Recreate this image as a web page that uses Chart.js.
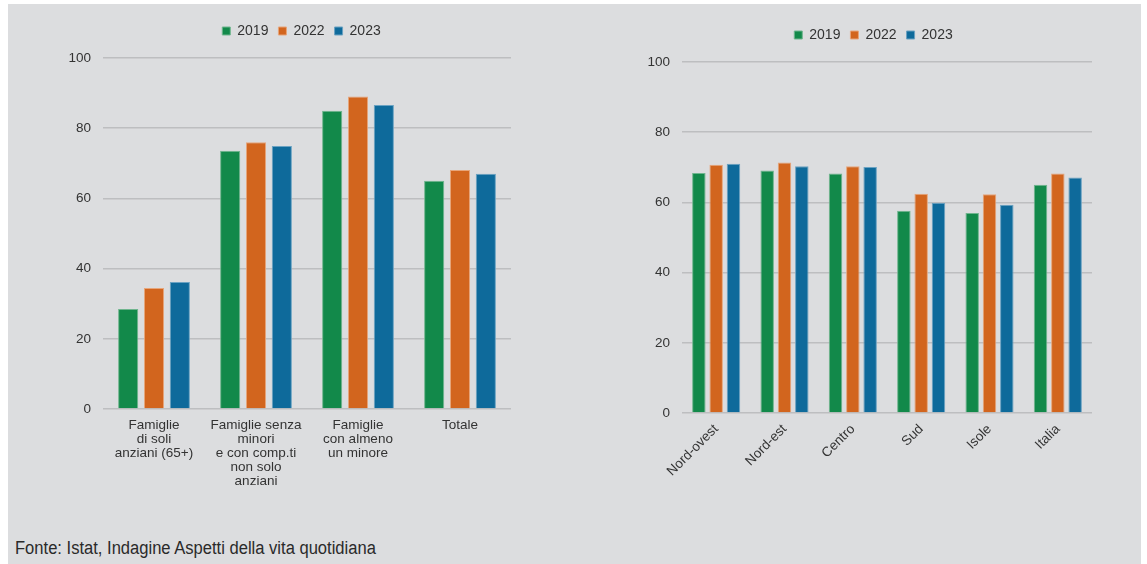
<!DOCTYPE html>
<html>
<head>
<meta charset="utf-8">
<script src="https://cdn.jsdelivr.net/npm/chart.js@4.4.1/dist/chart.umd.min.js"></script>
<style>
  html, body { margin: 0; padding: 0; background: #ffffff; }
  #panel { position: absolute; left: 8px; top: 4px; width: 1133px; height: 560px; background: #dcdddf; }
  .box { position: absolute; }
  #footer { position: absolute; left: 15px; top: 538px; font-family: "Liberation Sans", Arial, sans-serif; font-size: 18px; color: #2a2a2a; transform: scaleX(0.92); transform-origin: 0 0; white-space: nowrap; }
</style>
</head>
<body>
<div id="panel"></div>
<div class="box" style="left:8px; top:4px; width:560px; height:520px;"><canvas id="c1" width="560" height="520"></canvas></div>
<div class="box" style="left:575px; top:4px; width:566px; height:520px;"><canvas id="c2" width="566" height="520"></canvas></div>
<div id="footer">Fonte: Istat, Indagine Aspetti della vita quotidiana</div>
<script>
const seriesNames = ["2019", "2022", "2023"];
const colors = ["#12894a", "#d2651e", "#0e6a9b"];
const borders = ["#6fb58e", "#e7a57a", "#6aa2c2"];

const leftCategories = [
  ["Famiglie", "di soli", "anziani (65+)"],
  ["Famiglie senza", "minori", "e con comp.ti", "non solo", "anziani"],
  ["Famiglie", "con almeno", "un minore"],
  "Totale"
];
const left2019 = [28.5, 73.6, 85.0, 65.0];
const left2022 = [34.5, 76.0, 89.0, 68.1];
const left2023 = [36.2, 74.9, 86.6, 67.0];

const rightCategories = ["Nord-ovest", "Nord-est", "Centro", "Sud", "Isole", "Italia"];
const right2019 = [68.4, 69.1, 68.2, 57.6, 57.0, 65.0];
const right2022 = [70.7, 71.4, 70.3, 62.5, 62.3, 68.2];
const right2023 = [71.0, 70.3, 70.1, 59.9, 59.3, 67.1];

const yTicks = [0, 20, 40, 60, 80, 100];

const FONT = "'Liberation Sans', Arial, sans-serif";
Chart.defaults.font.family = FONT;
Chart.defaults.color = "#333333";

function makeDatasets(vals) {
  return vals.map((v, i) => ({
    label: seriesNames[i],
    data: v,
    backgroundColor: colors[i],
    borderColor: borders[i],
    borderWidth: 1,
    categoryPercentage: 0.76,
    barPercentage: 0.78
  }));
}

function makeChart(id, labels, vals, opt) {
  return new Chart(document.getElementById(id), {
    type: "bar",
    data: { labels: labels, datasets: makeDatasets(vals) },
    options: {
      responsive: false,
      animation: false,
      layout: { padding: opt.padding },
      plugins: {
        tooltip: { enabled: false },
        legend: {
          position: "top",
          labels: { boxWidth: 8, boxHeight: 8, padding: 10, font: { size: 14 }, color: "#333333" }
        }
      },
      scales: {
        x: {
          grid: { display: false, drawTicks: false },
          border: { display: false },
          ticks: {
            font: { size: 13.5, lineHeight: 1.04 }, color: "#333333", padding: 9,
            maxRotation: opt.rot, minRotation: opt.rot, autoSkip: false
          },
          afterFit: (s) => { s.height = opt.xh; }
        },
        y: {
          min: 0, max: 100,
          afterBuildTicks: (s) => { s.ticks = yTicks.map(v => ({ value: v })); },
          grid: { color: "#bdbec0", lineWidth: 1.5, drawTicks: false },
          border: { display: false },
          ticks: { font: { size: 13.5 }, color: "#333333", padding: 12 },
          afterFit: (s) => { s.width = opt.yw; }
        }
      }
    },
    plugins: [{
      id: "legendTweak",
      beforeInit(chart) {
        const lg = chart.legend;
        const orig = lg.fit;
        lg.fit = function () { orig.call(this); this.height += opt.gap; };
      },
      afterLayout(chart) {
        const lg = chart.legend;
        lg.left += opt.dx;
        lg.right += opt.dx;
      }
    }]
  });
}

makeChart("c1", leftCategories, [left2019, left2022, left2023],
  { padding: { left: 0, right: 57, top: 10, bottom: 5 }, rot: 0, xh: 110, yw: 95, gap: 10, dx: 42 });
makeChart("c2", rightCategories, [right2019, right2022, right2023],
  { padding: { left: 0, right: 49, top: 14, bottom: 5 }, rot: 45, xh: 106, yw: 107, gap: 10, dx: 40 });
</script>
</body>
</html>
